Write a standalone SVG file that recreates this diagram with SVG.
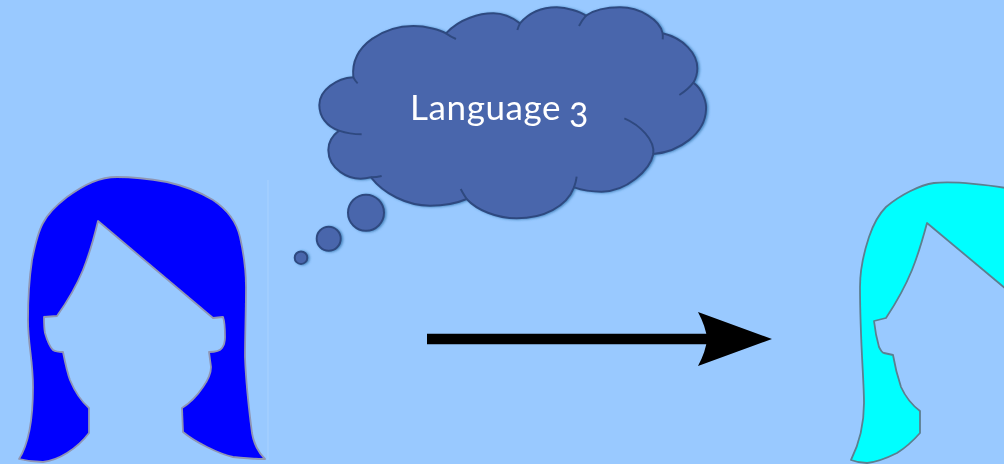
<svg xmlns="http://www.w3.org/2000/svg" width="1004" height="464" viewBox="0 0 1004 464">
<style>
.hair{stroke-width:1.8;stroke-linejoin:round;filter:url(#soft)}
.cl{fill:#4a66ac;stroke:#2f4a80;stroke-width:2;stroke-linecap:butt;stroke-linejoin:round}
.inner{fill:none;stroke:#2f4a80;stroke-width:2}
.label{font-family:"Lato","Open Sans",sans-serif;font-size:35px;letter-spacing:0.6px;fill:#fff;font-variant-numeric:oldstyle-nums}
.digit{font-size:36px}
</style>
<defs>
<filter id="soft" x="-5%" y="-5%" width="110%" height="110%"><feGaussianBlur stdDeviation="0.7"/></filter>
<filter id="softArrow" filterUnits="userSpaceOnUse" x="410" y="295" width="380" height="90"><feGaussianBlur stdDeviation="0.7"/></filter>
<filter id="shadow" x="-5%" y="-5%" width="110%" height="110%"><feDropShadow dx="1.5" dy="0.5" stdDeviation="1.2" flood-color="#2f6ea8" flood-opacity="0.75"/></filter>
<marker id="head" markerUnits="userSpaceOnUse" markerWidth="80" markerHeight="60" refX="12" refY="30" orient="auto">
<path d="M3 3Q11 18 12 30Q11 42 3 57L77 30Z" fill="#000"/>
</marker>
</defs>
<rect id="background" width="1004" height="464" fill="#99c9ff"/>
<path d="M268 180V460" stroke="#a9d2ff" stroke-width="1" fill="none"/>
<g id="connectors" filter="url(#softArrow)">
<line x1="427" y1="339" x2="707" y2="339" stroke="#000" stroke-width="10.5" marker-end="url(#head)"/>
</g>
<g id="person-left">
<path class="hair" fill="#0000ff" stroke="#8f96b4" d="M19 459C28 445 33 420 33 387C33 360 28 345 28 320C28 295 29 280 32 260C35 245 38 232 43 223C48 213 58 204 67 197C85 184 100 177 117 177C133 177 150 179 167 182C185 186 200 192 213 200C228 210 237 224 240 237C244 255 246 270 246 287C246 310 245 335 245 357C246 385 249 410 252 433C254 445 259 453 265 459C253 459 243 458 233 457C224 455 215 451 207 447C197 442 190 438 183 432L182 408C190 403 197 396 203 387C208 380 211 374 211 367L209 352C215 352 220 351 222 348C225 344 225 340 225 337C225 330 225 322 223 317L213 318L98 221C94 238 89 255 83 270C76 287 67 302 57 316L44 317C44 323 44 328 45 333C47 340 49 346 53 350C56 352 60 352 63 352C65 362 67 372 70 380C75 392 81 401 89 408L89 433C83 441 75 448 67 453C59 458 51 461 43 462C35 462 27 461 19 459Z"/>
</g>
<g id="person-right">
<path class="hair" fill="#00ffff" stroke="#5c7f90" d="M851 460C858 446 864 428 864 403C864 380 860 340 860 287C860 270 864 252 869 237C873 225 879 214 886 207C900 195 920 185 934 183C955 181 980 184 1006 188V289L927 223C923 238 918 255 912 270C905 287 896 303 886 318L874 321C875 330 877 340 879 347C881 351 883 353 884 353L893 355C895 367 898 378 901 387C906 398 912 405 920 411V433C913 441 905 448 897 453C887 458 877 462 867 463C862 463 856 462 851 460Z"/>
</g>
<g id="thought-cloud" filter="url(#shadow)">
<circle class="cl" cx="301" cy="257.7" r="6.3"/>
<circle class="cl" cx="328.7" cy="238.7" r="12"/>
<circle class="cl" cx="366" cy="212.7" r="18"/>
<g transform="translate(290 0) scale(0.33333)">
<path class="cl" style="stroke-width:6" d="M190 232C180 130 290 78 370 78C410 78 450 90 468 100C510 55 570 40 610 40C640 40 670 55 690 70C720 35 760 22 800 22C830 22 870 35 888 47C920 25 960 22 990 22C1050 22 1110 60 1118 100C1180 115 1222 160 1222 205C1222 225 1215 240 1210 248C1240 270 1250 310 1248 330C1245 400 1170 455 1090 462C1080 510 1010 575 935 575C905 575 875 570 852 562C830 620 760 655 680 655C620 655 560 630 530 597C500 610 460 617 420 617C350 617 280 580 243 532C170 550 115 500 115 450C115 425 130 405 147 392C110 380 88 350 88 315C88 270 140 235 190 232Z"/>
<path class="inner" style="stroke-width:6" d="M190 232Q195 242 203 250M468 100Q482 110 498 117M690 70Q685 80 682 90M888 47Q875 62 867 78M1118 100Q1119 110 1118 118M1210 248Q1195 268 1168 285M1090 462C1095 420 1050 375 1003 355M852 562Q858 546 860 530M530 597Q520 582 512 567M243 532Q260 532 275 528M147 392Q180 403 215 403"/>
</g>
<text class="label" x="410" y="120">Language <tspan class="digit" x="569" dy="3">3</tspan></text>
</g>
</svg>
